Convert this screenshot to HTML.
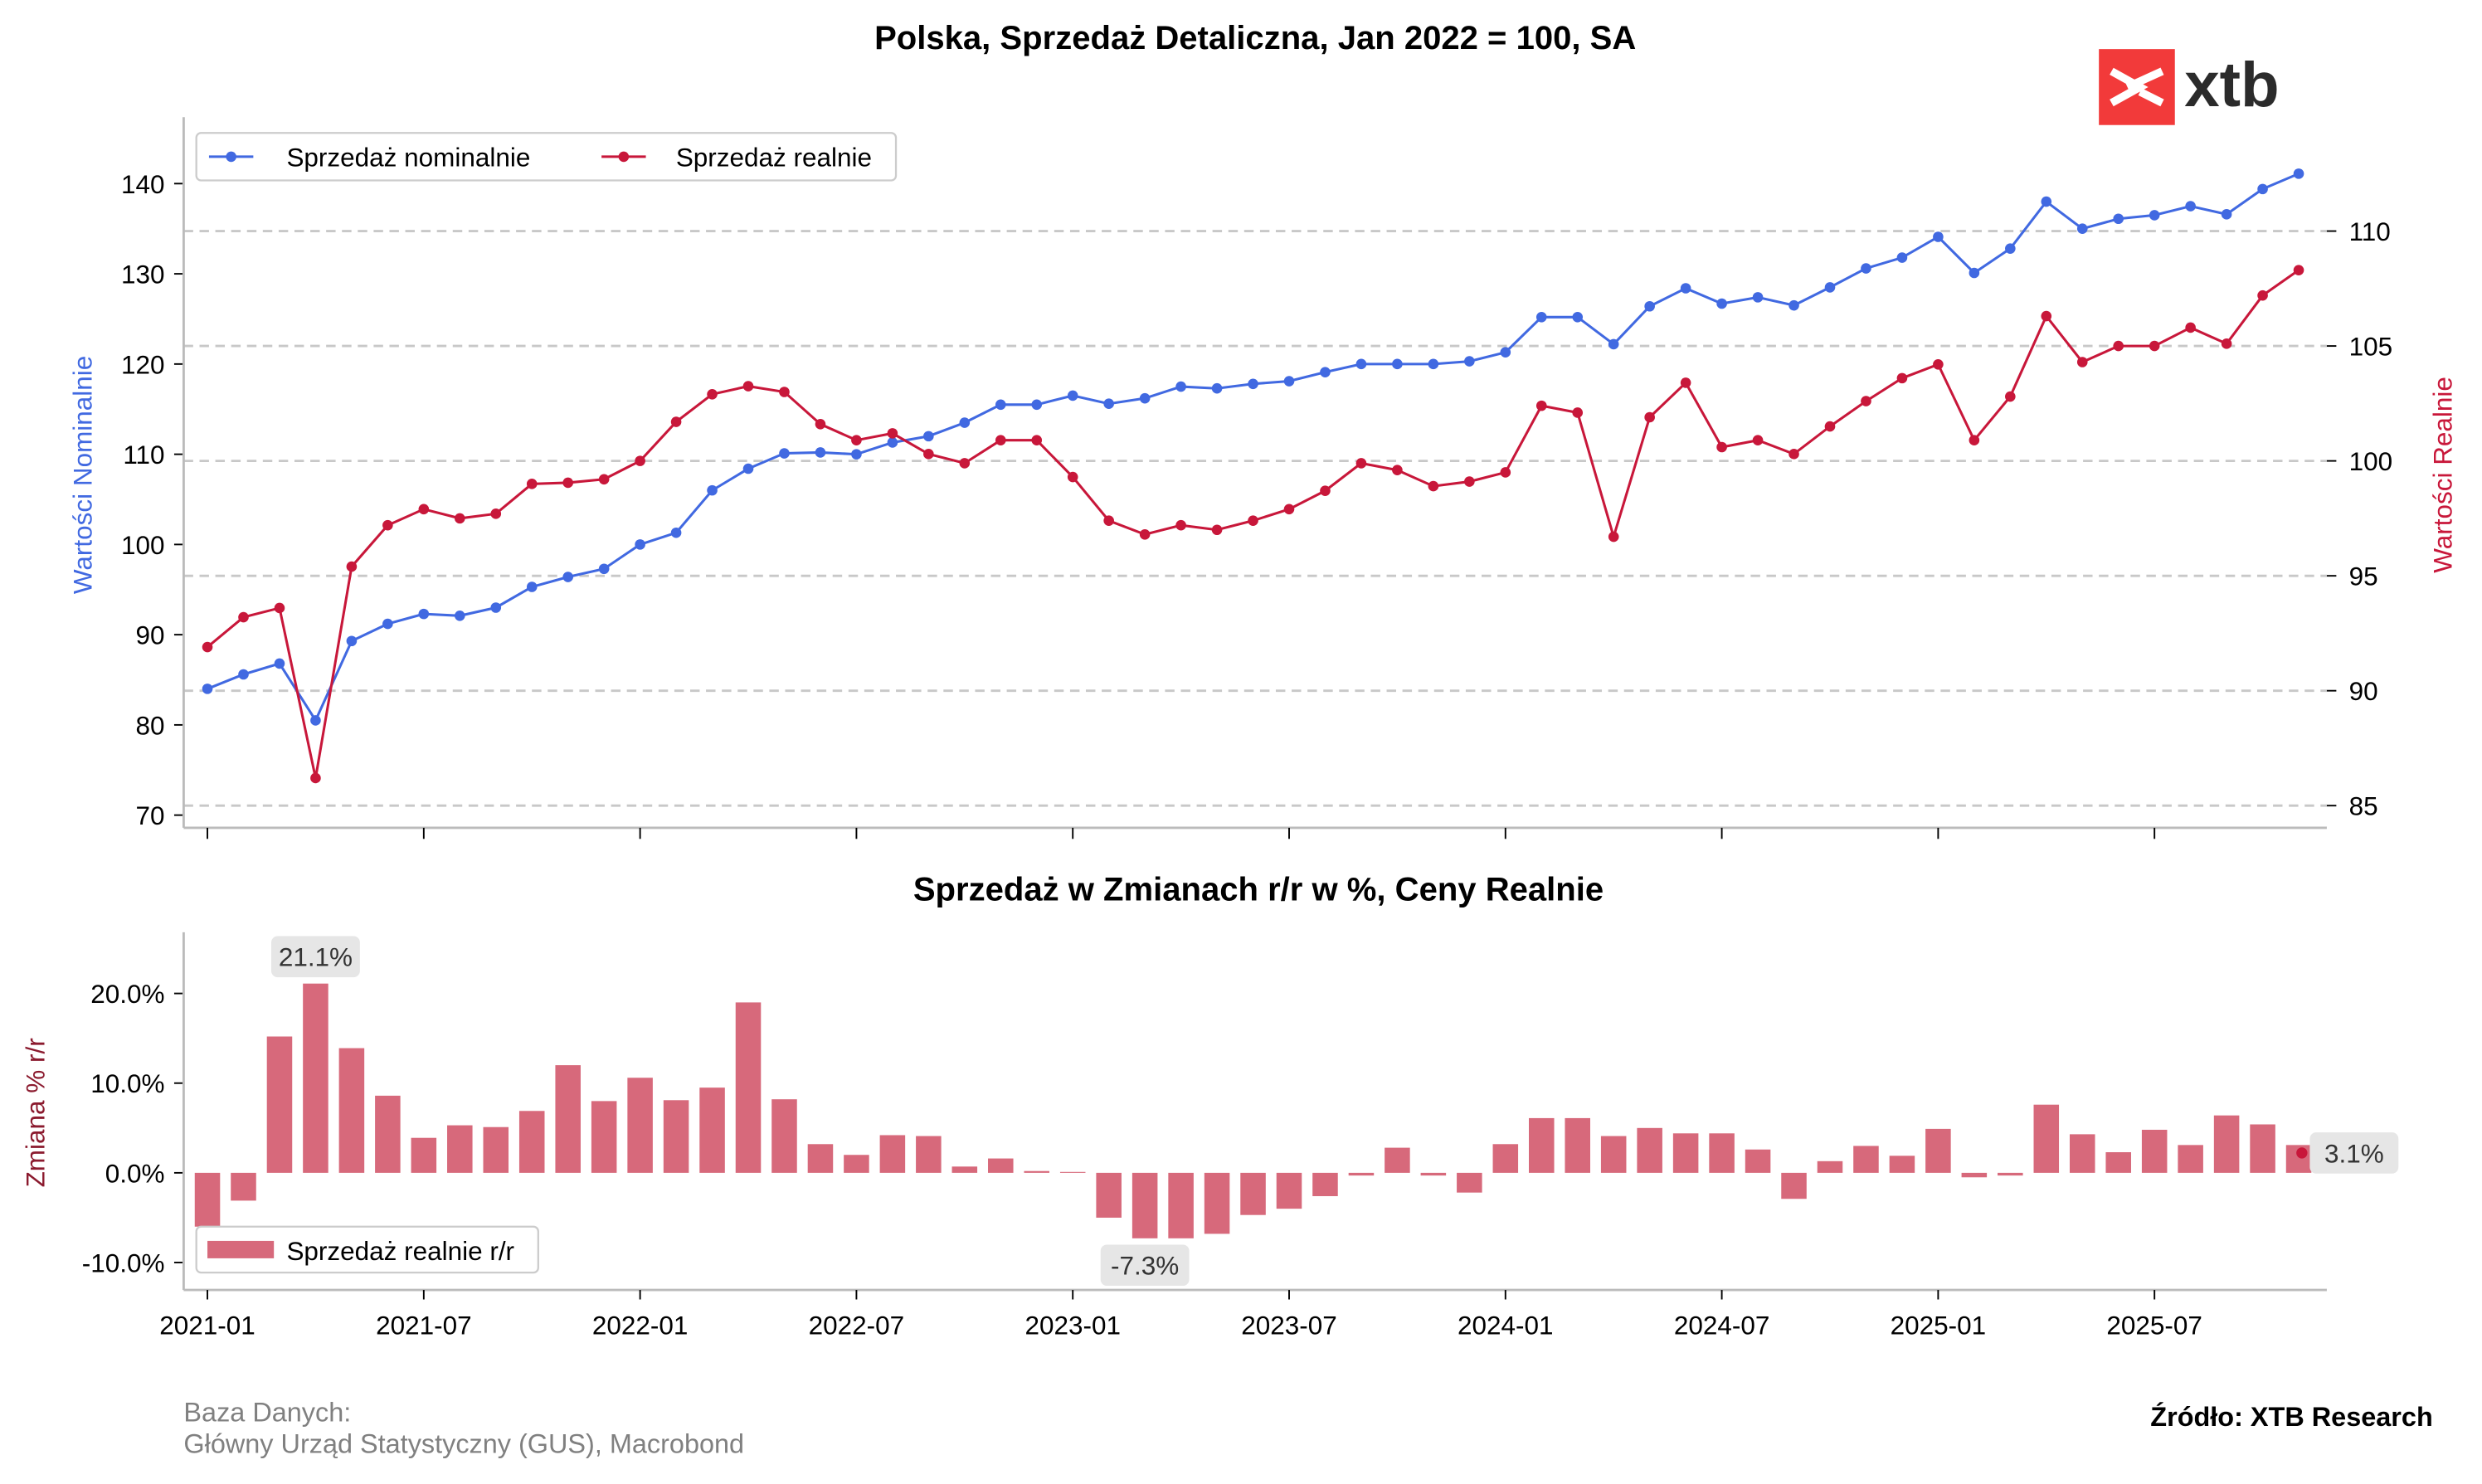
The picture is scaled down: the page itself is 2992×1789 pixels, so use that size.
<!DOCTYPE html>
<html><head><meta charset="utf-8"><style>
html,body{margin:0;padding:0;background:#fff}
svg{display:block;font-family:"Liberation Sans",Arial,sans-serif}
</style></head><body>
<svg id="c" width="2992" height="1789" viewBox="0 0 1568 937.6" xmlns="http://www.w3.org/2000/svg">
<text x="793" y="31" text-anchor="middle" font-size="21" font-weight="bold">Polska, Sprzedaż Detaliczna, Jan 2022 = 100, SA</text>
<g>
<rect x="1326" y="31" width="48" height="48" fill="#f23a3a"/>
<path d="M1334 45 L1352 55 L1334 65 M1344 55 L1366 45 M1352 58 L1366 65" stroke="#fff" stroke-width="5" fill="none"/>
<text x="1380" y="67" font-size="40" font-weight="bold" fill="#2b2b2b">xtb</text>
</g>
<g id="gtop"></g>
<g id="gbot"></g>
<text x="116" y="898" font-size="17" fill="#808080">Baza Danych:</text>
<text x="116" y="918" font-size="17" fill="#808080">Główny Urząd Statystyczny (GUS), Macrobond</text>
<text x="1537" y="901" text-anchor="end" font-size="17" font-weight="bold">Źródło: XTB Research</text>
</svg>
<script>
const months = ["2021-01","2021-07","2022-01","2022-07","2023-01","2023-07","2024-01","2024-07","2025-01","2025-07"];
const nominal = [84,85.6,86.8,80.5,89.3,91.2,92.3,92.1,93,95.3,96.4,97.3,
100,101.3,106,108.4,110.1,110.2,110,111.3,112,113.5,115.5,115.5,
116.5,115.6,116.2,117.5,117.3,117.8,118.1,119.1,120,120,120,120.3,
121.3,125.2,125.2,122.2,126.4,128.4,126.7,127.4,126.5,128.5,130.6,131.8,
134.1,130.1,132.8,138,135,136.1,136.5,137.5,136.6,139.4,141.1];
const real = [91.9,93.2,93.6,86.2,95.4,97.2,97.9,97.5,97.7,99.0,99.05,99.2,
100.0,101.7,102.9,103.25,103.0,101.6,100.9,101.2,100.3,99.9,100.9,100.9,
99.3,97.4,96.8,97.2,97.0,97.4,97.9,98.7,99.9,99.6,98.9,99.1,
99.5,102.4,102.1,96.7,101.9,103.4,100.6,100.9,100.3,101.5,102.6,103.6,
104.2,100.9,102.8,106.3,104.3,105.0,105.0,105.8,105.1,107.2,108.3];
const yoy = [-6.0,-3.1,15.2,21.1,13.9,8.6,3.9,5.3,5.1,6.9,12.0,8.0,
10.6,8.1,9.5,19.0,8.2,3.2,2.0,4.2,4.1,0.7,1.6,0.2,
0.1,-5.0,-7.3,-7.3,-6.8,-4.7,-4.0,-2.6,-0.3,2.8,-0.3,-2.2,
3.2,6.1,6.1,4.1,5.0,4.4,4.4,2.6,-2.9,1.3,3.0,1.9,
4.9,-0.5,-0.3,7.6,4.3,2.3,4.8,3.1,6.4,5.4,3.1];
const leftTicks = [70,80,90,100,110,120,130,140];
const rightTicks = [85,90,95,100,105,110];
const barTicks = [-10,0,10,20];

const NS="http://www.w3.org/2000/svg";
function mk(parent,tag,attrs,text){const e=document.createElementNS(NS,tag);for(const k in attrs)e.setAttribute(k,attrs[k]);if(text!==undefined)e.textContent=text;parent.appendChild(e);return e;}
const X = i => 131 + i*22.78;
const yL = v => 515 - (v-70)*5.7;
const yR = v => 509 - (v-85)*14.52;
const yB = v => 741 - v*5.667;
const gTop=document.getElementById('gtop'), gBot=document.getElementById('gbot');
const FS=16.5;

rightTicks.forEach(t=>{
  const g=mk(gTop,'line',{x1:116,x2:1470,y1:yR(t),y2:yR(t),stroke:'#c8c8c8','stroke-width':1.5,'stroke-dasharray':'6,4'});
  
  
  mk(gTop,'line',{x1:1470,x2:1476,y1:yR(t),y2:yR(t),stroke:'#000'});
  const l=mk(gTop,'text',{x:1484,y:yR(t)+6,'font-size':FS},String(t));
  
  
});
leftTicks.forEach(t=>{
  mk(gTop,'line',{x1:110,x2:116,y1:yL(t),y2:yL(t),stroke:'#000'});
  const l=mk(gTop,'text',{x:104,y:yL(t)+6,'font-size':FS,'text-anchor':'end'},String(t));
  
  
});
mk(gTop,'line',{x1:116,x2:116,y1:74,y2:523,stroke:'#bbb','stroke-width':1.5});
mk(gTop,'line',{x1:116,x2:1470,y1:523,y2:523,stroke:'#bbb','stroke-width':1.5});
months.forEach((m,k)=>{mk(gTop,'line',{x1:X(k*6),x2:X(k*6),y1:523,y2:530,stroke:'#000'});});
function series(vals,yf,color,name){
  const p=mk(gTop,'polyline',{points:vals.map((v,i)=>X(i)+','+yf(v)).join(' '),fill:'none',stroke:color,'stroke-width':1.6});
  
  
  vals.forEach((v,i)=>{const c=mk(gTop,'circle',{cx:X(i),cy:yf(v),r:3.3,fill:color});
    
    });
}
series(nominal,yL,'#4169e1','nominal');
series(real,yR,'#c8173a','real');
const lg=mk(gTop,'g',{});


mk(lg,'rect',{x:124,y:84,width:442,height:30,rx:3,fill:'#fff',stroke:'#ccc','stroke-width':1.2});
mk(lg,'line',{x1:132,x2:160,y1:99,y2:99,stroke:'#4169e1','stroke-width':1.6});
mk(lg,'circle',{cx:146,cy:99,r:3.3,fill:'#4169e1'});
mk(lg,'text',{x:181,y:105,'font-size':FS},'Sprzedaż nominalnie');
mk(lg,'line',{x1:380,x2:408,y1:99,y2:99,stroke:'#c8173a','stroke-width':1.6});
mk(lg,'circle',{cx:394,cy:99,r:3.3,fill:'#c8173a'});
mk(lg,'text',{x:427,y:105,'font-size':FS},'Sprzedaż realnie');
const ly=mk(gTop,'text',{x:0,y:0,'font-size':FS,fill:'#4169e1','text-anchor':'middle',transform:'translate(58,300) rotate(-90)'},'Wartości Nominalnie');


const ry=mk(gTop,'text',{x:0,y:0,'font-size':FS,fill:'#c8173a','text-anchor':'middle',transform:'translate(1549,300) rotate(-90)'},'Wartości Realnie');



const bt=mk(gBot,'text',{x:795,y:569,'text-anchor':'middle','font-size':21,'font-weight':'bold'},'Sprzedaż w Zmianach r/r w %, Ceny Realnie');


yoy.forEach((v,i)=>{
  const r=mk(gBot,'rect',{x:X(i)-8,y:Math.min(yB(v),yB(0)),width:16,height:Math.abs(yB(v)-yB(0)),fill:'#d7697b'});
  
  
});
barTicks.forEach(t=>{
  mk(gBot,'line',{x1:110,x2:116,y1:yB(t),y2:yB(t),stroke:'#000'});
  const l=mk(gBot,'text',{x:104,y:yB(t)+6,'font-size':FS,'text-anchor':'end'},t.toFixed(1)+'%');
  
  
});
mk(gBot,'line',{x1:116,x2:116,y1:589,y2:815,stroke:'#bbb','stroke-width':1.5});
mk(gBot,'line',{x1:116,x2:1470,y1:815,y2:815,stroke:'#bbb','stroke-width':1.5});
months.forEach((m,k)=>{
  mk(gBot,'line',{x1:X(k*6),x2:X(k*6),y1:815,y2:821,stroke:'#000'});
  const l=mk(gBot,'text',{x:X(k*6),y:843,'font-size':FS,'text-anchor':'middle'},m);
  
  
});
const by=mk(gBot,'text',{x:0,y:0,'font-size':FS,fill:'#8b1a2e','text-anchor':'middle',transform:'translate(28,703) rotate(-90)'},'Zmiana % r/r');


function note(i,v,dy,txt,dx){
  const cx=X(i)+(dx||0), cy=yB(v)+dy;
  const g=mk(gBot,'g',{});
  
  
  mk(g,'rect',{x:cx-28,y:cy-13,width:56,height:26,rx:4,fill:'#e6e6e6'});
  mk(g,'text',{x:cx,y:cy+6,'font-size':FS,'text-anchor':'middle',fill:'#333'},txt);
}
const imax=yoy.indexOf(Math.max(...yoy)), imin=yoy.indexOf(Math.min(...yoy)), il=yoy.length-1;
note(imax,yoy[imax],-17,yoy[imax].toFixed(1)+'%');
note(imin,yoy[imin],17,yoy[imin].toFixed(1)+'%');
note(il,yoy[il],5,yoy[il].toFixed(1)+'%',35);
const dot=mk(gBot,'circle',{cx:X(il)+2,cy:yB(yoy[il])+5,r:3.5,fill:'#c8173a'});


const bl=mk(gBot,'g',{});


mk(bl,'rect',{x:124,y:775,width:216,height:29,rx:3,fill:'#fff',stroke:'#ccc','stroke-width':1.2});
mk(bl,'rect',{x:131,y:784,width:42,height:11,fill:'#d7697b'});
mk(bl,'text',{x:181,y:796,'font-size':FS},'Sprzedaż realnie r/r');
</script>
</body></html>
